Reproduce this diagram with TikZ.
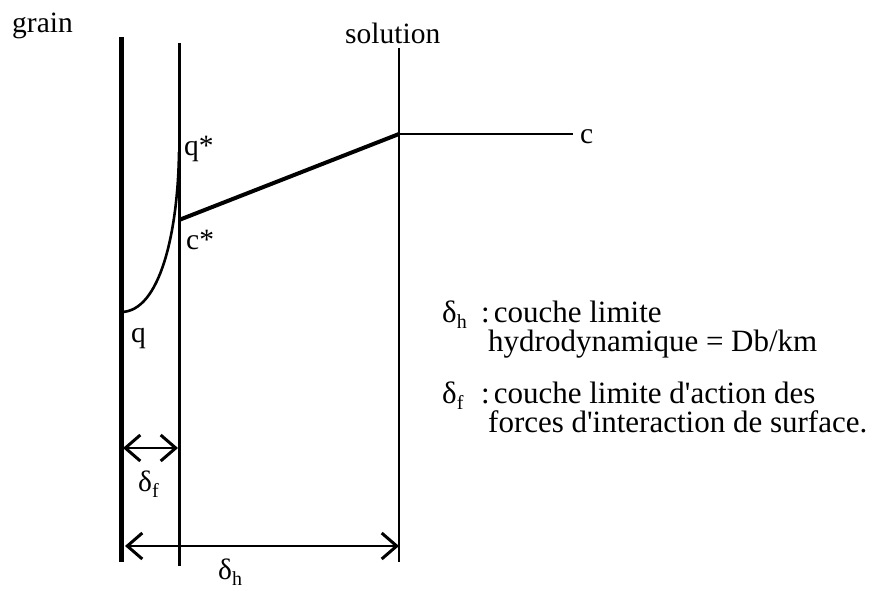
\documentclass[tikz,border=0pt]{standalone}
\usepackage{fontspec}
\setmainfont{Liberation Serif}
\usetikzlibrary{arrows.meta}
\newcommand{\dsub}[1]{δ\raisebox{-0.22em}{\fontsize{20}{20}\selectfont #1}}
\begin{document}
\begin{tikzpicture}[x=1pt,y=-1pt,
  lbl/.style={anchor=base west, inner sep=0pt, font=\fontsize{29.5}{30}\selectfont},
  leg/.style={anchor=base west, inner sep=0pt, font=\fontsize{31}{25}\selectfont},
  dimline/.style={line width=2.4pt, {Straight Barb[length=15pt,width=26pt,line width=3pt]}-{Straight Barb[length=15pt,width=26pt,line width=3pt]}},
]
\useasboundingbox (0,0) rectangle (875,591);
% vertical boundaries
\coordinate (gT) at (121,37);  \coordinate (gB) at (121,562);
\coordinate (iT) at (179,43);  \coordinate (iB) at (179,566);
\coordinate (sT) at (399,48);  \coordinate (sB) at (399,562);
\draw[line width=5pt] (gT) -- (gB);
\draw[line width=3pt] (iT) -- (iB);
\draw[line width=1.2pt] (sT) -- (sB);
% q profile
\coordinate (q0) at (121,312); \coordinate (qs) at (179,152);
\draw[line width=2.6pt] (q0) .. controls (160,312) and (178,232) .. (qs);
% c profile
\coordinate (cs) at (179,220); \coordinate (cb) at (399,134); \coordinate (ce) at (573,134);
\draw[line width=4pt] (cs) -- (cb);
\draw[line width=2.2pt] (cb) -- (ce);
% dimension arrows
\coordinate (f1) at (123,448); \coordinate (f2) at (178,448);
\coordinate (h1) at (125,546); \coordinate (h2) at (399,546);
\draw[dimline] (f1) -- (f2);
\draw[dimline] (h1) -- (h2);
% labels
\node[lbl] (grain) at (12,33) {grain};
\node[lbl] (sol) at (345,44) {solution};
\node[lbl] (qstar) at (184,156) {q*};
\node[lbl] (cstar) at (186,249) {c*};
\node[lbl] (q) at (131,342) {q};
\node[lbl] (c) at (580,143) {c};
\node[lbl] (df) at (138,491) {\dsub{f}};
\node[lbl] (dh) at (218,579) {\dsub{h}};
% legend
\node[leg] (ldh) at (442,322) {\dsub{h}};
\node[leg] (ldh1) at (481,322) {\begin{tabular}[t]{@{}l@{}}:\hspace{4pt}couche limite\\\hspace{7pt}hydrodynamique = Db/km\end{tabular}};
\node[leg] (ldf) at (442,403) {\dsub{f}};
\node[leg] (ldf1) at (481,403) {\begin{tabular}[t]{@{}l@{}}:\hspace{4pt}couche limite d\textquotesingle action des\\\hspace{7pt}forces d\textquotesingle interaction de surface.\end{tabular}};
\end{tikzpicture}
\end{document}
